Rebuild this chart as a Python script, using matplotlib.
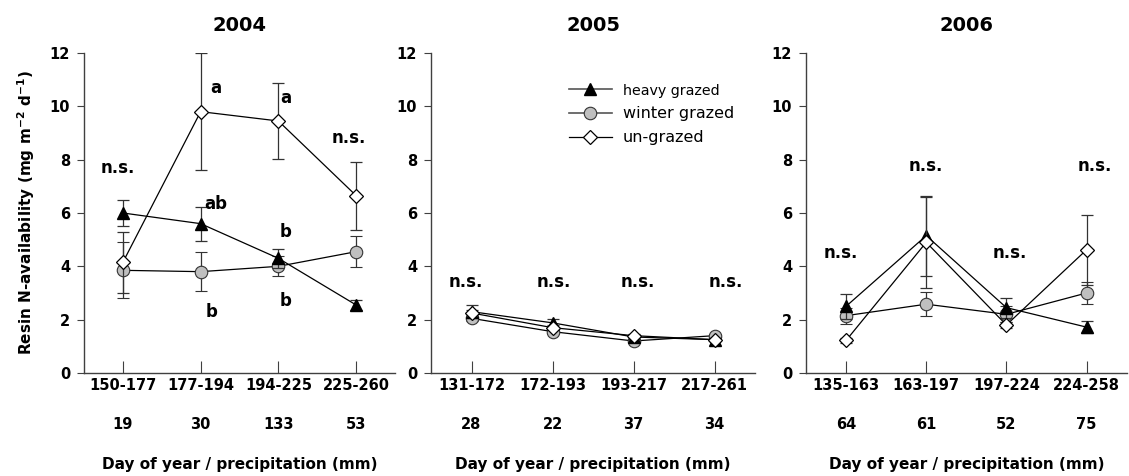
import numpy as np
import matplotlib
matplotlib.use('Agg')
import matplotlib.pyplot as plt
from matplotlib.lines import Line2D
from matplotlib.transforms import blended_transform_factory

plt.rcParams['font.family'] = ['DejaVu Sans']
plt.rcParams['mathtext.fontset'] = 'dejavusans'
plt.rcParams['mathtext.default'] = 'bf'

# ------------------------------------------------------------------ #
years = ['2004', '2005', '2006']
day_ranges = [['150-177', '177-194', '194-225', '225-260'],
              ['131-172', '172-193', '193-217', '217-261'],
              ['135-163', '163-197', '197-224', '224-258']]
precip = [['19', '30', '133', '53'],
          ['28', '22', '37', '34'],
          ['64', '61', '52', '75']]

heavy = [[6.0, 5.6, 4.3, 2.55],
         [2.3, 1.88, 1.35, 1.25],
         [2.5, 5.15, 2.45, 1.72]]
heavy_err = [[0.5, 0.64, 0.35, 0.2],
             [0.25, 0.15, 0.08, 0.06],
             [0.48, 1.5, 0.38, 0.22]]
winter = [[3.85, 3.8, 4.0, 4.55],
          [2.05, 1.55, 1.2, 1.4],
          [2.15, 2.58, 2.2, 3.0]]
winter_err = [[1.05, 0.72, 0.38, 0.58],
              [0.1, 0.08, 0.06, 0.06],
              [0.3, 0.44, 0.3, 0.42]]
ungrazed = [[4.15, 9.8, 9.45, 6.65],
            [2.25, 1.7, 1.4, 1.25],
            [1.22, 4.9, 1.8, 4.62]]
ungrazed_err = [[1.15, 2.2, 1.43, 1.28],
                [0.12, 0.1, 0.06, 0.05],
                [0.1, 1.7, 0.1, 1.32]]

# significance letters: (panel, x, y, text)
letters = [(0, -0.06, 7.7, 'n.s.'), (0, 1.19, 10.7, 'a'), (0, 1.2, 6.35, 'ab'),
           (0, 1.14, 2.3, 'b'), (0, 2.09, 10.3, 'a'), (0, 2.09, 5.3, 'b'),
           (0, 2.09, 2.7, 'b'), (0, 2.91, 8.8, 'n.s.'),
           (1, -0.07, 3.4, 'n.s.'), (1, 1.01, 3.4, 'n.s.'), (1, 2.05, 3.4, 'n.s.'),
           (1, 3.14, 3.4, 'n.s.'),
           (2, -0.06, 4.5, 'n.s.'), (2, 1.0, 7.75, 'n.s.'), (2, 2.04, 4.5, 'n.s.'),
           (2, 3.1, 7.75, 'n.s.')]

# ------------------------------------------------------------------ #
fig = plt.figure(figsize=(11.29, 4.76), dpi=100)
positions = [[0.0744, 0.2164, 0.2755, 0.6723],
             [0.3818, 0.2164, 0.287, 0.6723],
             [0.7139, 0.2164, 0.284, 0.6723]]
axcol = '#404040'
errcol = '#333333'
fs = 10.5

axes = []
for p in range(3):
    ax = fig.add_axes(positions[p])
    axes.append(ax)
    x = np.arange(4)
    ax.errorbar(x, winter[p], yerr=winter_err[p], color='black', lw=0.9,
                marker='o', ms=9, mfc='#bfbfbf', mec='#333333', mew=0.8,
                ecolor=errcol, elinewidth=0.9, capsize=4, capthick=0.9,
                zorder=2)
    ax.errorbar(x, heavy[p], yerr=heavy_err[p], color='black', lw=0.9,
                marker='^', ms=8.6, mfc='black', mec='black',
                ecolor=errcol, elinewidth=0.9, capsize=4, capthick=0.9,
                zorder=3)
    ax.errorbar(x, ungrazed[p], yerr=ungrazed_err[p], color='black', lw=0.9,
                marker='D', ms=7.3, mfc='white', mec='black', mew=0.9,
                ecolor=errcol, elinewidth=0.9, capsize=4, capthick=0.9,
                zorder=4)

    ax.set_xlim(-0.5, 3.5)
    ax.set_ylim(0, 12)
    ax.set_yticks(np.arange(0, 13, 2))
    ax.set_xticks(x)
    ax.set_xticklabels([])
    for s in ['top', 'right']:
        ax.spines[s].set_visible(False)
    for s in ['left', 'bottom']:
        ax.spines[s].set_color(axcol)
        ax.spines[s].set_linewidth(1.0)
    ax.tick_params(axis='y', direction='out', length=5, color=axcol,
                   labelsize=fs, pad=5)
    ax.tick_params(axis='x', direction='in', length=9, color=axcol)
    for lab in ax.get_yticklabels():
        lab.set_fontweight('bold')

    trans = blended_transform_factory(ax.transData, ax.transAxes)
    for i in range(4):
        ax.text(i, -0.04, day_ranges[p][i], transform=trans, ha='center',
                va='center', fontsize=fs, fontweight='bold')
        ax.text(i, -0.16, precip[p][i], transform=trans, ha='center',
                va='center', fontsize=fs, fontweight='bold')
    ax.text(1.5, -0.285, 'Day of year / precipitation (mm)', transform=trans,
            ha='center', va='center', fontsize=11, fontweight='bold')
    ax.text(0.5, 1.085, years[p], transform=ax.transAxes, ha='center',
            va='center', fontsize=14, fontweight='bold')

for p, xx, yy, t in letters:
    axes[p].text(xx, yy, t, ha='center', va='center', fontsize=12,
                 fontweight='bold')

axes[0].set_ylabel(r'Resin N-availability (mg m$^{-2}$ d$^{-1}$)',
                   fontsize=11, fontweight='bold', labelpad=9)

handles = [Line2D([], [], color='#555555', lw=1.2, marker='^', ms=8.6,
                  mfc='black', mec='black'),
           Line2D([], [], color='#555555', lw=1.2, marker='o', ms=9,
                  mfc='#bfbfbf', mec='#333333', mew=0.8),
           Line2D([], [], color='black', lw=0.9, marker='D', ms=7.3,
                  mfc='white', mec='black', mew=0.9)]
labels = ['heavy grazed', 'winter grazed', 'un-grazed']
leg = axes[1].legend(handles, labels, loc='upper left',
                     bbox_to_anchor=(0.405, 0.925), frameon=False,
                     handlelength=2.7, handletextpad=0.7, labelspacing=0.55,
                     fontsize=11.5, borderaxespad=0)
leg.get_texts()[0].set_fontsize(10.3)

fig.savefig('out.png', dpi=100)
